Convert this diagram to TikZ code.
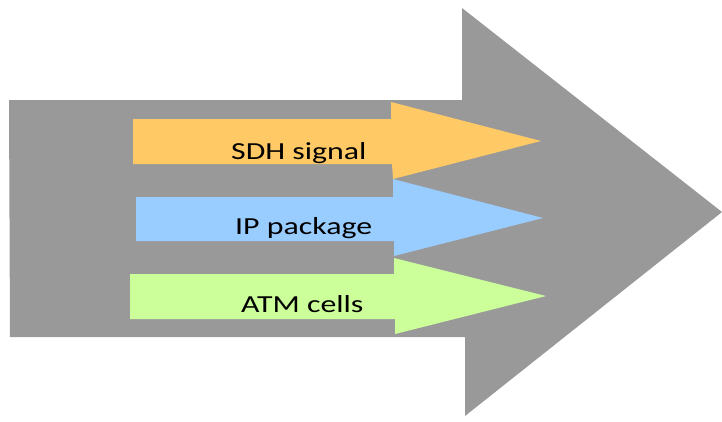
\documentclass[tikz,border=0pt]{standalone}
\usepackage{fontspec}
\setmainfont{Carlito}
\newfontfamily\widefont[FakeStretch=1.3]{Carlito}
\definecolor{biggray}{HTML}{999999}
\definecolor{sdhorange}{HTML}{FFC966}
\definecolor{ipblue}{HTML}{99CCFF}
\definecolor{atmgreen}{HTML}{CCFF99}
\begin{document}
\begin{tikzpicture}[x=1pt,y=-1pt,
  lbl/.style={anchor=base west,inner sep=0pt,font=\widefont\fontsize{24.5}{28}\selectfont,text=black}]
\useasboundingbox (0,0) rectangle (722,421);
% big gray arrow
\fill[biggray] (9,100) -- (462,100) -- (462,8) -- (722,212) -- (465,416) -- (465,337) -- (10,337) -- cycle;
% orange
\fill[sdhorange] (133,119) -- (391,119) -- (391,102) -- (541,141) -- (393,179) -- (392,164) -- (133,164) -- cycle;
% blue
\fill[ipblue] (136,197) -- (393,197) -- (393,179) -- (543,218) -- (394,256) -- (394,241) -- (136,241) -- cycle;
% green
\fill[atmgreen] (130,274) -- (394,274) -- (394,258) -- (546,296) -- (395,334) -- (395,319) -- (130,319) -- cycle;
\node[lbl] (sdh) at (231,159) {SDH signal};
\node[lbl] (ip) at (235,234) {IP package};
\node[lbl] (atm) at (241,312) {ATM cells};
\end{tikzpicture}
\end{document}
